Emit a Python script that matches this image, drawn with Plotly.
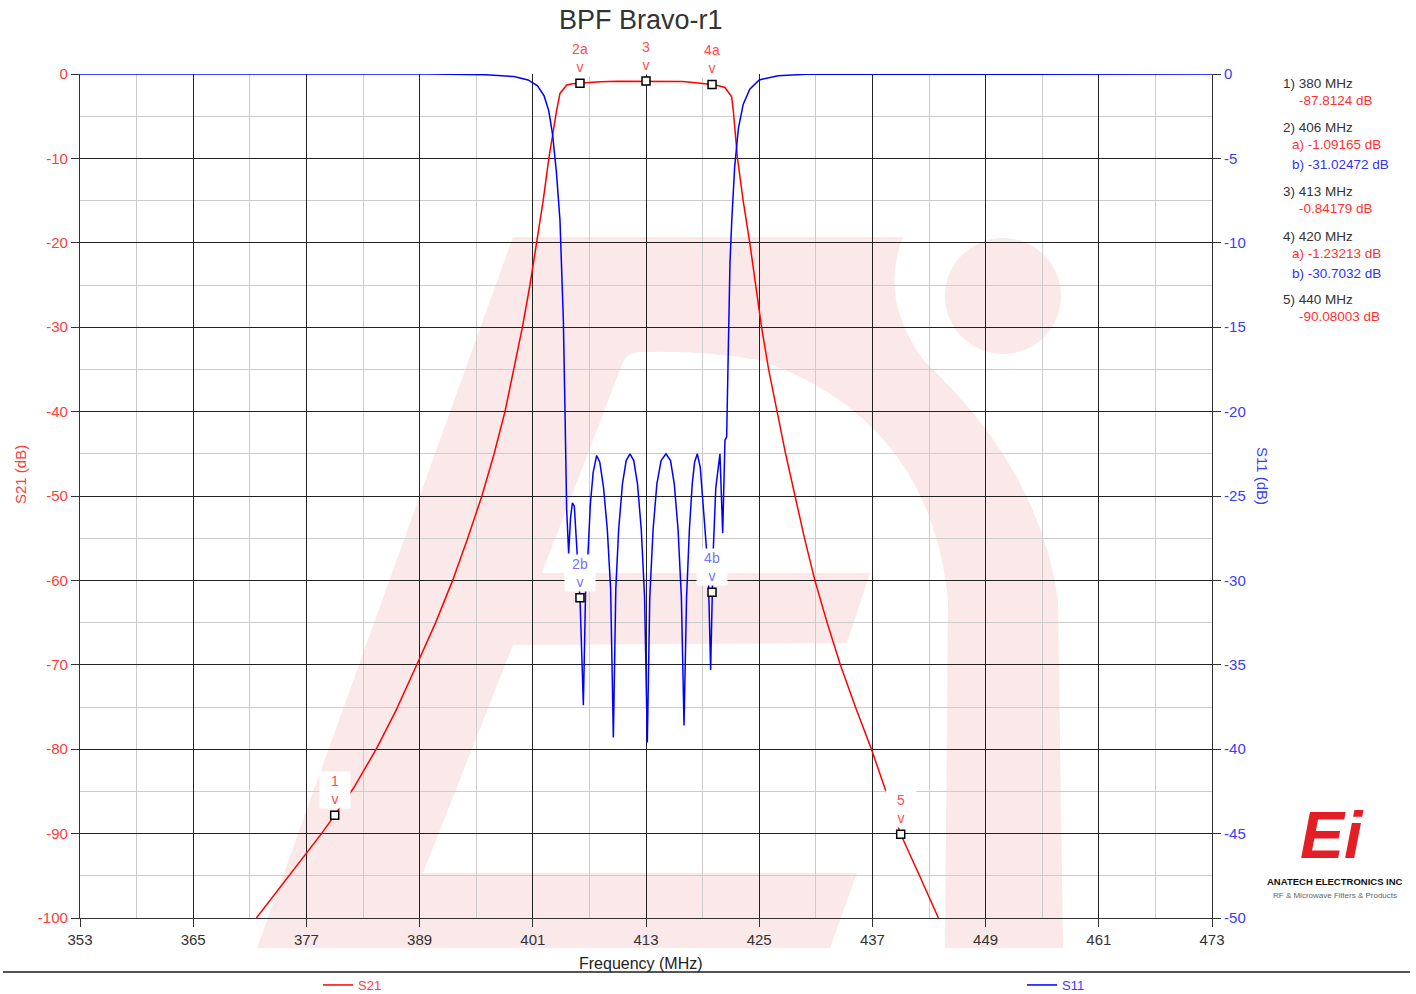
import plotly.graph_objects as go

# ---------------- data ----------------
s21_freq = [371.7, 374, 376, 378.6, 380, 382, 384.4, 386.5, 388.7, 390.7, 392.5, 394.1,
            395.6, 396.9, 398.05, 399.0, 399.9, 400.7, 401.4, 402.1, 402.7, 403.2, 403.53,
            403.88, 404.59, 405.2, 406.0, 407.0, 408.12, 410.0, 413.0, 416.0, 416.9, 418.0,
            419.0, 420.0, 420.7, 421.37, 422.08, 422.25, 422.7, 423.3, 424.0, 424.6, 425.25,
            426.0, 426.9, 427.8, 428.8, 429.8, 430.9, 432.2, 433.6, 435.2, 436.9, 438.4,
            440.0, 442.0, 444.0]
s21_db = [-100, -96.7, -93.7, -90.0, -87.81, -84.6, -80, -75.4, -70, -65, -60, -55,
          -50, -45, -40, -35, -30, -25, -20, -15, -10, -6.5, -4.27,
          -2.3, -1.3, -1.15, -1.09, -1.0, -0.91, -0.86, -0.84, -0.87, -0.9, -1.0,
          -1.1, -1.23, -1.4, -1.6, -2.7, -4.3, -10, -15, -20, -25, -30,
          -35, -40, -45, -50, -55, -60, -65, -70, -75, -80, -85,
          -90.08, -95, -100]

s11_freq = [353, 390, 396, 399, 400.5, 401.5, 402.2, 402.7, 403.1, 403.5, 403.88, 404.06,
            404.24, 404.41, 404.59, 404.8, 405.0, 405.2, 405.4, 405.7, 406.0, 406.36, 406.6,
            406.85, 407.1, 407.4, 407.77, 408.1, 408.5, 408.9, 409.25, 409.54, 409.8, 410.1,
            410.5, 410.9, 411.3, 411.7, 412.1, 412.5, 412.85, 413.14, 413.4, 413.75, 414.15,
            414.6, 415.12, 415.6, 416.0, 416.4, 416.75, 417.03, 417.3, 417.6, 417.9, 418.15,
            418.44, 418.75, 419.05, 419.35, 419.6, 419.85, 420.0, 420.13, 420.4, 420.84,
            421.13, 421.37, 421.55, 421.7, 421.9, 422.1, 422.4, 422.8, 423.3, 424.0, 425.0,
            427, 430, 473]
s11_db = [0, 0, -0.05, -0.15, -0.35, -0.7, -1.3, -2.2, -3.6, -5.8, -8.65, -11.2,
          -14.6, -19.9, -25.8, -28.4, -26.3, -25.4, -25.6, -28.4, -31.02, -37.4, -30.5,
          -28.4, -25.5, -23.6, -22.6, -23.0, -24.5, -27.0, -30.5, -39.3, -30.5, -27.0,
          -24.3, -22.9, -22.5, -22.9, -24.3, -27.0, -31.0, -39.6, -31.0, -27.0, -24.3,
          -22.9, -22.5, -22.9, -24.3, -27.0, -31.0, -38.6, -31.0, -27.0, -24.3, -23.0,
          -22.5, -23.3, -25.5, -28.2, -29.5, -35.3, -30.7, -28.2, -24.5, -22.5,
          -27.2, -21.7, -21.5, -15.9, -11.2, -8.6, -5.5, -3.2, -1.8, -0.9, -0.35,
          -0.1, -0.02, 0]

# markers
m21_num = ["1", "2", "3", "4", "5"]
m21_label = ["1", "2a", "3", "4a", "5"]
m21_freq = [380, 406, 413, 420, 440]
m21_db = [-87.8124, -1.09165, -0.84179, -1.23213, -90.08003]
m11_label = ["2b", "4b"]
m11_freq = [406, 420]
m11_db = [-31.02472, -30.7032]

x_ticks = list(range(353, 474, 12))
y21_ticks = list(range(-100, 1, 10))
y11_ticks = list(range(-50, 1, 5))

RED = "#ff0000"
BLUE = "#0000ff"
PINK = "#fbe8e8"
FONT = "Liberation Sans, Arial"

# plot area in page pixels
L, R, T, B = 80, 1212, 74, 918
W, H = 1416, 994


def pp(x, y):
    return (x - L) / (R - L), (B - y) / (B - T)


def path_from(cmds):
    out = []
    for c, pts in cmds:
        s = c
        for (x, y) in pts:
            a, b = pp(x, y)
            s += f" {a:.5f},{b:.5f}"
        out.append(s)
    return " ".join(out)


fig = go.Figure()

fig.add_trace(go.Scatter(x=s11_freq, y=s11_db, mode="lines", name="S11", yaxis="y2",
                         line=dict(color=BLUE, width=1.5), legend="legend2"))
fig.add_trace(go.Scatter(x=s21_freq, y=s21_db, mode="lines", name="S21",
                         line=dict(color=RED, width=1.5), legend="legend"))

mk = dict(symbol="square", size=8, color="white", line=dict(color="black", width=1.5))
fig.add_trace(go.Scatter(x=m21_freq, y=m21_db, mode="markers", marker=mk,
                         showlegend=False, cliponaxis=False))
fig.add_trace(go.Scatter(x=m11_freq, y=m11_db, mode="markers", marker=mk, yaxis="y2",
                         showlegend=False, cliponaxis=False))

ann = []
for lab, f, v in zip(m21_label, m21_freq, m21_db):
    ann.append(dict(x=f, y=v, xref="x", yref="y", text=f"{lab}<br>v", showarrow=False,
                    xanchor="center", yanchor="bottom", yshift=6, bgcolor="white", width=28,
                    borderpad=1, font=dict(size=14, color="#ff4d4d", family=FONT)))
for lab, f, v in zip(m11_label, m11_freq, m11_db):
    ann.append(dict(x=f, y=v, xref="x", yref="y2", text=f"{lab}<br>v", showarrow=False,
                    xanchor="center", yanchor="bottom", yshift=6, bgcolor="white", width=28,
                    borderpad=1, font=dict(size=14, color="#7373ff", family=FONT)))

# marker readout block on the right (group top positions in page pixels)
group_y = [83, 127, 191, 236, 299]
lines = []
for i, (n, f) in enumerate(zip(m21_num, m21_freq)):
    y0 = group_y[i]
    lines.append((f"{n}) {f} MHz", 1281, y0, "#333333"))
    if f in m11_freq:
        lines.append((f"a) {m21_db[i]} dB", 1290, y0 + 18, "#ff3030"))
        lines.append((f"b) {m11_db[m11_freq.index(f)]} dB", 1290, y0 + 37, "#3030ff"))
    else:
        lines.append((f"{m21_db[i]} dB", 1297, y0 + 17, "#ff3030"))
for t, x, y, c in lines:
    a, b = pp(x, y)
    ann.append(dict(x=a, y=b, xref="paper", yref="paper", text=t, showarrow=False,
                    xanchor="left", yanchor="middle",
                    font=dict(size=13.5, color=c, family=FONT)))


def txt(text, x, y, size, color, angle=0, family=FONT):
    a, b = pp(x, y)
    return dict(x=a, y=b, xref="paper", yref="paper", text=text, showarrow=False,
                xanchor="center", yanchor="middle", textangle=angle,
                font=dict(size=size, color=color, family=family))


ann.append(txt("BPF Bravo-r1", 641, 20, 27, "#333333"))
ann.append(txt("Frequency (MHz)", 641, 963, 16, "#222222"))
ann.append(txt("S21 (dB)", 20, 475, 15, "#ff3b3b", -90))
ann.append(txt("S11 (dB)", 1263, 476, 15, "#3b3bff", 90))

# logo
ann.append(txt("<b><i>Ei</i></b>", 1332, 835, 66, "#e31e24"))
ann.append(txt("<b>ANATECH ELECTRONICS INC</b>", 1335, 881, 9.5, "#111111",
               family="Liberation Sans Narrow, Liberation Sans, Arial"))
ann.append(txt("RF &amp; Microwave Filters &amp; Products", 1335, 895, 8, "#666666",
               family="Liberation Sans Narrow, Liberation Sans, Arial"))

# watermark + separator
E_PATH = [("M", [(513, 237)]), ("L", [(903, 237)]), ("Q", [(878, 300), (925, 362)]),
          ("Q", [(1040, 470), (1058, 600)]), ("L", [(1063, 948)]), ("L", [(945, 948)]),
          ("L", [(948, 600)]), ("Q", [(930, 420), (760, 360)]), ("Q", [(700, 350), (640, 352)]),
          ("Q", [(628, 352), (623, 362)]), ("L", [(542, 573)]), ("L", [(870, 573)]),
          ("L", [(847, 643)]), ("L", [(513, 645)]), ("L", [(423, 873)]), ("L", [(857, 873)]),
          ("L", [(830, 948)]), ("L", [(257, 948)]), ("Z", [])]
shapes = [dict(type="path", xref="paper", yref="paper", path=path_from(E_PATH),
               fillcolor=PINK, line=dict(width=0), layer="below")]
cx0, cy0 = pp(945, 238)
cx1, cy1 = pp(1061, 354)
shapes.append(dict(type="circle", xref="paper", yref="paper", x0=cx0, y0=cy1, x1=cx1, y1=cy0,
                   fillcolor=PINK, line=dict(width=0), layer="below"))
sx0, sy = pp(3, 972)
sx1, _ = pp(1410, 972)
shapes.append(dict(type="line", xref="paper", yref="paper", x0=sx0, x1=sx1, y0=sy, y1=sy,
                   line=dict(color="#555555", width=2)))

lx, ly = pp(318, 985)
lx2, _ = pp(1022, 985)

axis_common = dict(zeroline=False, ticks="outside", ticklen=8, tickcolor="#333333",
                   showline=True, linecolor="#333333", linewidth=1.2)

fig.update_layout(
    width=W, height=H,
    margin=dict(l=L, r=W - R, t=T, b=H - B, autoexpand=False),
    paper_bgcolor="white", plot_bgcolor="rgba(0,0,0,0)",
    font=dict(family=FONT),
    xaxis=dict(range=[353, 473], tickmode="array", tickvals=x_ticks,
               ticktext=[str(v) for v in x_ticks], showgrid=True, gridcolor="#222222",
               gridwidth=1.2, minor=dict(tick0=353, dtick=6, showgrid=True, gridcolor="#cccccc",
                                         gridwidth=1),
               tickfont=dict(size=15, color="#333333"), **axis_common),
    yaxis=dict(range=[-100, 0], tickmode="array", tickvals=y21_ticks,
               ticktext=[str(v) for v in y21_ticks], showgrid=True, gridcolor="#222222",
               gridwidth=1.2, minor=dict(tick0=0, dtick=5, showgrid=True, gridcolor="#cccccc",
                                         gridwidth=1),
               tickfont=dict(size=15, color="#ff3b3b"), **axis_common),
    yaxis2=dict(range=[-50, 0], tickmode="array", tickvals=y11_ticks,
                ticktext=[str(v) for v in y11_ticks], overlaying="y", side="right",
                showgrid=False, tickfont=dict(size=15, color="#3b3bff"), **axis_common),
    legend=dict(x=lx, y=ly, xanchor="left", yanchor="middle", orientation="h",
                bgcolor="rgba(0,0,0,0)", font=dict(size=13, color="#ff3b3b")),
    legend2=dict(x=lx2, y=ly, xanchor="left", yanchor="middle", orientation="h",
                 bgcolor="rgba(0,0,0,0)", font=dict(size=13, color="#3b3bff")),
    annotations=ann,
    shapes=shapes,
)

fig.write_html("out.html", config={"displayModeBar": False},
               post_script="document.body.style.margin='0';document.body.style.overflow='hidden';")
